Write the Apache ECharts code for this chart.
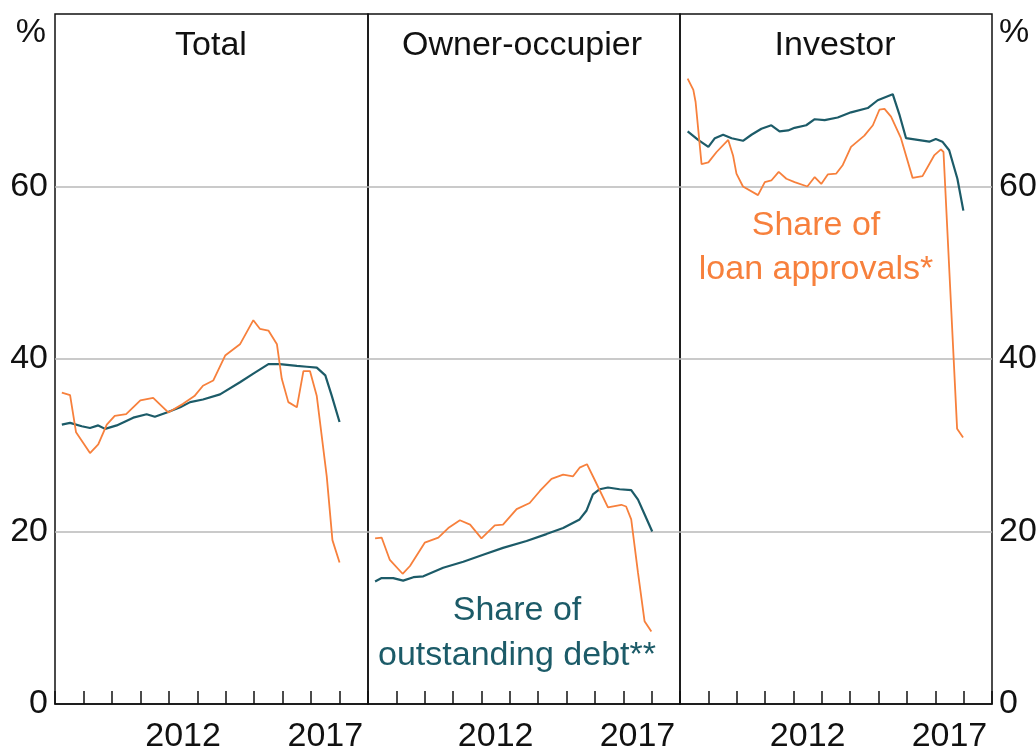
<!DOCTYPE html>
<html>
<head>
<meta charset="utf-8">
<script src="https://cdn.jsdelivr.net/npm/echarts@6/dist/echarts.min.js"></script>
<style>
html,body{margin:0;padding:0;background:#fff;}
#chart{width:1036px;height:753px;}
</style>
</head>
<body>
<div id="chart"></div>
<script>
// ---- data (decimal year, per cent) ----
const yearCategories = ['2008','2009','2010','2011','2012','2013','2014','2015','2016','2017','2018'];
const shownYears = ['2012','2017'];
const panelNames = ['Total', 'Owner-occupier', 'Investor'];

const totalApprovals = [
  [2008.24,36.1],[2008.53,35.8],[2008.74,31.5],[2009.23,29.1],[2009.52,30.1],[2009.82,32.4],
  [2010.10,33.4],[2010.50,33.6],[2011.00,35.2],[2011.45,35.5],[2011.98,33.8],[2012.50,34.8],
  [2012.90,35.7],[2013.20,36.9],[2013.56,37.5],[2013.98,40.4],[2014.50,41.7],[2014.97,44.5],
  [2015.20,43.5],[2015.50,43.3],[2015.80,41.7],[2015.97,37.7],[2016.20,35.0],[2016.50,34.4],
  [2016.73,38.6],[2016.96,38.6],[2017.20,35.7],[2017.55,26.4],[2017.75,19.0],[2018.00,16.4]
];
const totalDebt = [
  [2008.24,32.4],[2008.53,32.6],[2008.94,32.2],[2009.23,32.0],[2009.52,32.3],[2009.76,31.9],
  [2010.17,32.3],[2010.75,33.2],[2011.22,33.6],[2011.51,33.3],[2011.93,33.8],[2012.40,34.4],
  [2012.75,35.0],[2013.20,35.3],[2013.80,35.9],[2014.50,37.3],[2014.97,38.3],[2015.50,39.4],
  [2015.90,39.4],[2016.50,39.2],[2016.85,39.1],[2017.20,39.0],[2017.50,38.1],[2017.73,35.7],
  [2018.00,32.7]
];
const ownerApprovals = [
  [2008.25,19.2],[2008.48,19.3],[2008.77,16.7],[2009.22,15.1],[2009.48,16.0],[2010.00,18.7],
  [2010.48,19.3],[2010.83,20.4],[2011.24,21.3],[2011.60,20.8],[2012.00,19.2],[2012.47,20.7],
  [2012.76,20.8],[2013.24,22.6],[2013.70,23.3],[2014.06,24.7],[2014.47,26.1],[2014.88,26.6],
  [2015.23,26.4],[2015.46,27.4],[2015.72,27.8],[2015.99,26.0],[2016.46,22.8],[2016.93,23.1],
  [2017.10,22.9],[2017.28,21.4],[2017.52,15.2],[2017.75,9.6],[2017.99,8.4]
];
const ownerDebt = [
  [2008.25,14.2],[2008.48,14.6],[2008.89,14.6],[2009.24,14.3],[2009.60,14.7],[2009.95,14.8],
  [2010.65,15.8],[2011.36,16.5],[2012.06,17.3],[2012.76,18.1],[2013.59,18.9],[2014.29,19.7],
  [2014.88,20.4],[2015.46,21.4],[2015.70,22.4],[2015.93,24.3],[2016.17,24.9],[2016.46,25.1],
  [2016.87,24.9],[2017.28,24.8],[2017.52,23.7],[2017.75,22.0],[2018.02,20.0]
];
const investorApprovals = [
  [2008.27,72.5],[2008.47,71.2],[2008.55,69.8],[2008.76,62.6],[2009.00,62.8],[2009.29,64.0],
  [2009.70,65.4],[2009.87,63.6],[2009.99,61.5],[2010.22,60.0],[2010.75,59.0],[2010.99,60.5],
  [2011.22,60.7],[2011.48,61.7],[2011.75,60.9],[2012.04,60.5],[2012.49,60.0],[2012.75,61.1],
  [2012.98,60.3],[2013.21,61.4],[2013.51,61.5],[2013.74,62.5],[2014.03,64.6],[2014.50,65.9],
  [2014.80,67.1],[2015.03,68.9],[2015.21,69.0],[2015.44,68.1],[2015.79,65.6],[2016.20,61.0],
  [2016.55,61.2],[2016.96,63.6],[2017.20,64.3],[2017.29,64.0],[2017.77,31.9],[2017.98,30.9]
];
const investorDebt = [
  [2008.27,66.4],[2008.64,65.4],[2009.00,64.6],[2009.23,65.6],[2009.52,66.0],[2009.82,65.6],
  [2010.22,65.3],[2010.52,66.0],[2010.87,66.7],[2011.22,67.1],[2011.51,66.4],[2011.81,66.5],
  [2012.04,66.8],[2012.45,67.1],[2012.75,67.8],[2013.10,67.7],[2013.56,68.0],[2014.03,68.6],
  [2014.62,69.1],[2014.97,70.0],[2015.50,70.7],[2015.73,68.4],[2015.97,65.6],[2016.38,65.4],
  [2016.79,65.2],[2017.02,65.5],[2017.25,65.2],[2017.49,64.2],[2017.78,60.9],[2017.99,57.2]
];

const approvalsByPanel = [totalApprovals, ownerApprovals, investorApprovals];
const debtByPanel = [totalDebt, ownerDebt, investorDebt];

// ---- styling ----
const FONT = '"Liberation Sans", Arial, sans-serif';
const ORANGE = '#F7803C';
const TEAL = '#1C5B68';
const INK = '#111';
const FS = 34;

const gridLefts = [55, 368, 680];
const gridWidths = [313, 312, 312];

const grid = [0,1,2].map(i => ({
  left: gridLefts[i], width: gridWidths[i], top: 14, bottom: 49,
  outerBoundsMode: 'none', containLabel: false,
  show: true, borderColor: INK, borderWidth: 1.5, backgroundColor: 'transparent'
}));

const xAxis = [];
[0,1,2].forEach(i => {
  xAxis.push({
    gridIndex: i, type: 'value', min: 2008, max: 2019, interval: 1, position: 'bottom',
    axisLine: { show: true, lineStyle: { color: INK, width: 1.5 } },
    axisTick: { show: true, inside: true, length: 13, lineStyle: { color: INK, width: 1.5 } },
    axisLabel: { show: false }, splitLine: { show: false }
  });
});
[0,1,2].forEach(i => {
  xAxis.push({
    gridIndex: i, type: 'category', data: yearCategories, boundaryGap: true, position: 'bottom',
    axisLine: { show: false }, axisTick: { show: false }, splitLine: { show: false },
    axisLabel: {
      show: true, interval: 0, margin: 16, color: INK, fontSize: FS, fontFamily: FONT,
      formatter: v => shownYears.includes(v) ? v : ''
    }
  });
});

const yAxis = [0,1,2].map(i => ({
  gridIndex: i, type: 'value', min: 0, max: 80, interval: 20,
  position: i === 2 ? 'right' : 'left',
  axisLine: { show: false }, axisTick: { show: false },
  splitLine: { show: true, showMinLine: false, showMaxLine: false, lineStyle: { color: '#b8b8b8', width: 1.5 } },
  axisLabel: {
    show: i !== 1, margin: 7, color: INK, fontSize: FS, fontFamily: FONT,
    formatter: v => v === 80 ? '' : String(v)
  }
}));

const series = [];
[0,1,2].forEach(i => {
  series.push({
    type: 'line', xAxisIndex: i, yAxisIndex: i, data: debtByPanel[i],
    showSymbol: false, symbol: 'none', lineStyle: { color: TEAL, width: 2.2 }, silent: true, z: 3
  });
  series.push({
    type: 'line', xAxisIndex: i, yAxisIndex: i, data: approvalsByPanel[i],
    showSymbol: false, symbol: 'none', lineStyle: { color: ORANGE, width: 1.8 }, silent: true, z: 4
  });
});

function txt(x, y, s, color, align) {
  return { type: 'text', x: x, y: y, style: {
    text: s, fill: color, font: FS + 'px ' + FONT, textAlign: align || 'center', textVerticalAlign: 'middle'
  }};
}

const graphic = [
  txt(46, 33, '%', INK, 'right'),
  txt(999, 33, '%', INK, 'left'),
  txt(211, 46, panelNames[0], INK),
  txt(522, 46, panelNames[1], INK),
  txt(835, 46, panelNames[2], INK),
  txt(816, 226, 'Share of', ORANGE),
  txt(816, 270, 'loan approvals*', ORANGE),
  txt(517, 611, 'Share of', TEAL),
  txt(517, 656, 'outstanding debt**', TEAL)
];

const chart = echarts.init(document.getElementById('chart'), null, { renderer: 'canvas' });
chart.setOption({
  animation: false,
  backgroundColor: '#fff',
  grid: grid, xAxis: xAxis, yAxis: yAxis, series: series, graphic: graphic
});
</script>
</body>
</html>
